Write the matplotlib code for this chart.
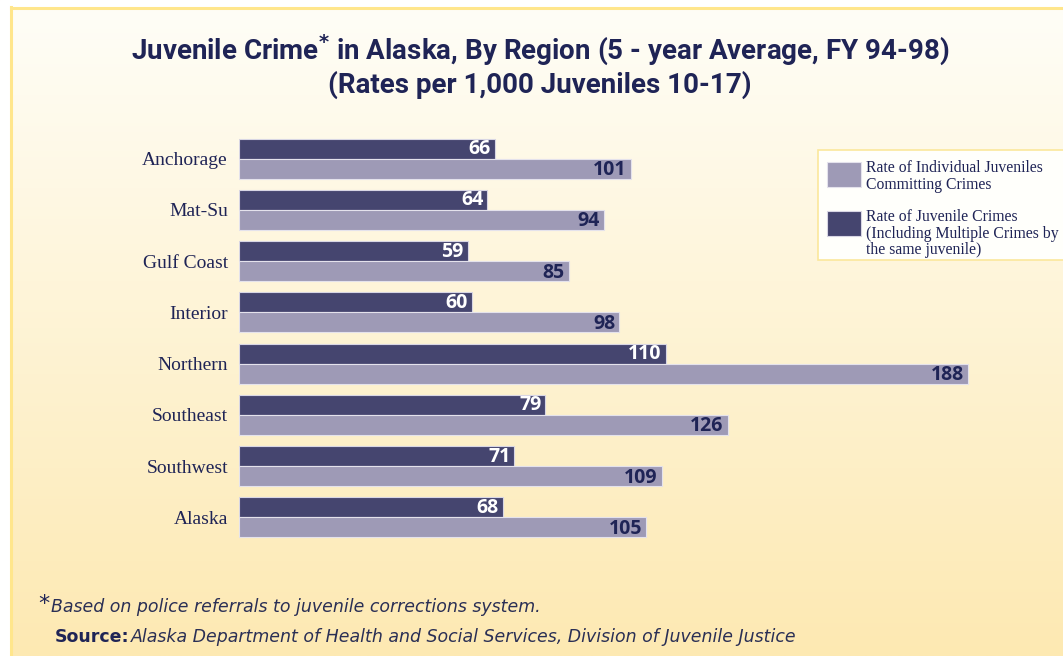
import numpy as np
import matplotlib
matplotlib.use("Agg")
import matplotlib.pyplot as plt
from matplotlib.patches import Rectangle

regions = ["Anchorage", "Mat-Su", "Gulf Coast", "Interior", "Northern",
           "Southeast", "Southwest", "Alaska"]
juvenile_crimes = [66, 64, 59, 60, 110, 79, 71, 68]
individual_juveniles = [101, 94, 85, 98, 188, 126, 109, 105]

legend_labels = ["Rate of Individual Juveniles\nCommitting Crimes",
                 "Rate of Juvenile Crimes\n(Including Multiple Crimes by\nthe same juvenile)"]

W, H = 1063, 656
fig = plt.figure(figsize=(W / 100, H / 100), dpi=100)

title_font = "Roboto"
foot_font = "DejaVu Sans"
serif = "Liberation Serif"

NAVY = "#1f2456"
DARK = "#45456f"
LIGHT = "#9e9ab6"

# background gradient
bg = fig.add_axes([0, 0, 1, 1], zorder=-10)
top = np.array([255, 254, 248]) / 255
bot = np.array([253, 233, 178]) / 255
t = np.linspace(0, 1, 256)[:, None]
grad = top[None, :] * (1 - t) + bot[None, :] * t
grad = np.repeat(grad[:, None, :], 2, axis=1)
bg.imshow(grad, aspect="auto", extent=[0, 1, 0, 1], origin="upper")
bg.set_xlim(0, 1)
bg.set_ylim(0, 1)
bg.axis("off")
bg.add_patch(Rectangle((0, 0), 10 / W, 1, color="white", transform=bg.transAxes, zorder=2))
bg.add_patch(Rectangle((0, 1 - 6 / H), 1, 6 / H, color="white", transform=bg.transAxes, zorder=2))
bg.plot([11 / W, 11 / W], [0, 1 - 7 / H], color="#ffe68c", lw=2.2, transform=bg.transAxes, zorder=3)
bg.plot([11 / W, 1], [1 - 7.5 / H, 1 - 7.5 / H], color="#ffe68c", lw=2.2, transform=bg.transAxes, zorder=3)

# main axes
x0_px, x1_px = 239, 1000
scale = (968 - 239) / 188.0
y_top_px, y_bot_px = 100, 580
c0, step = 158.5, 51.28
ax = fig.add_axes([x0_px / W, 1 - y_bot_px / H, (x1_px - x0_px) / W, (y_bot_px - y_top_px) / H])
ax.set_xlim(0, (x1_px - x0_px) / scale)
ax.set_ylim((y_bot_px - c0) / step, -(c0 - y_top_px) / step)
ax.patch.set_alpha(0)
for s in ax.spines.values():
    s.set_visible(False)
ax.set_xticks([])
ax.set_yticks(range(len(regions)))
ax.set_yticklabels(regions, fontfamily=serif, fontsize=14, color=NAVY)
ax.tick_params(axis="y", length=0, pad=8)

h = 20 / step
y = np.arange(len(regions))
ax.barh(y - h / 2, juvenile_crimes, height=h, color=DARK, edgecolor="#d8d6e4", linewidth=0.8)
ax.barh(y + h / 2, individual_juveniles, height=h, color=LIGHT, edgecolor="#e4e2ec", linewidth=0.8)

off = 4 / scale
for i in range(len(regions)):
    ax.text(juvenile_crimes[i] - off, y[i] - h / 2 + 0.01, str(juvenile_crimes[i]), ha="right", va="center",
            color="white", fontsize=14, fontweight="bold", fontfamily="Open Sans")
    ax.text(individual_juveniles[i] - off, y[i] + h / 2 + 0.03, str(individual_juveniles[i]), ha="right",
            va="center", color=NAVY, fontsize=14, fontweight="bold", fontfamily="Open Sans")

# title
fig.text(540 / W, 1 - 50 / H, r"Juvenile Crime$^{\mathbf{*}}$ in Alaska, By Region (5 - year Average, FY 94-98)",
         ha="center", va="center", fontsize=20, fontweight="bold", color=NAVY, fontfamily=title_font)
fig.text(540 / W, 1 - 85 / H, "(Rates per 1,000 Juveniles 10-17)",
         ha="center", va="center", fontsize=20, fontweight="bold", color=NAVY, fontfamily=title_font)

# legend
lg = fig.add_axes([0, 0, 1, 1], zorder=5)
lg.set_xlim(0, W)
lg.set_ylim(H, 0)
lg.axis("off")
lg.add_patch(Rectangle((818, 150), 260, 110, facecolor="#fffffb", edgecolor="#fbe79c", lw=1.2))
lg.add_patch(Rectangle((827, 162), 34, 25, facecolor=LIGHT, edgecolor="#e4e2ec", lw=0.8))
lg.add_patch(Rectangle((827, 211), 34, 25, facecolor=DARK, edgecolor="#d8d6e4", lw=0.8))
lg.text(866, 160, legend_labels[0], ha="left", va="top", fontsize=11.3, color=NAVY,
        fontfamily=serif, linespacing=1.05)
lg.text(866, 209, legend_labels[1], ha="left", va="top", fontsize=11.3, color=NAVY,
        fontfamily=serif, linespacing=1.05)

# footnotes
lg.text(38, 604, "*", ha="left", va="center", fontsize=16, color=NAVY, fontfamily=foot_font)
lg.text(51, 607, "Based on police referrals to juvenile corrections system.", ha="left", va="center",
        fontsize=12.5, style="italic", color="#2a2f55", fontfamily=foot_font)
lg.text(55, 637, "Source:", ha="left", va="center", fontsize=12.5, fontweight="bold",
        color=NAVY, fontfamily=foot_font)
lg.text(131, 637, "Alaska Department of Health and Social Services, Division of Juvenile Justice",
        ha="left", va="center", fontsize=12.5, style="italic", color="#2a2f55", fontfamily=foot_font)

fig.savefig("out.png", dpi=100)
